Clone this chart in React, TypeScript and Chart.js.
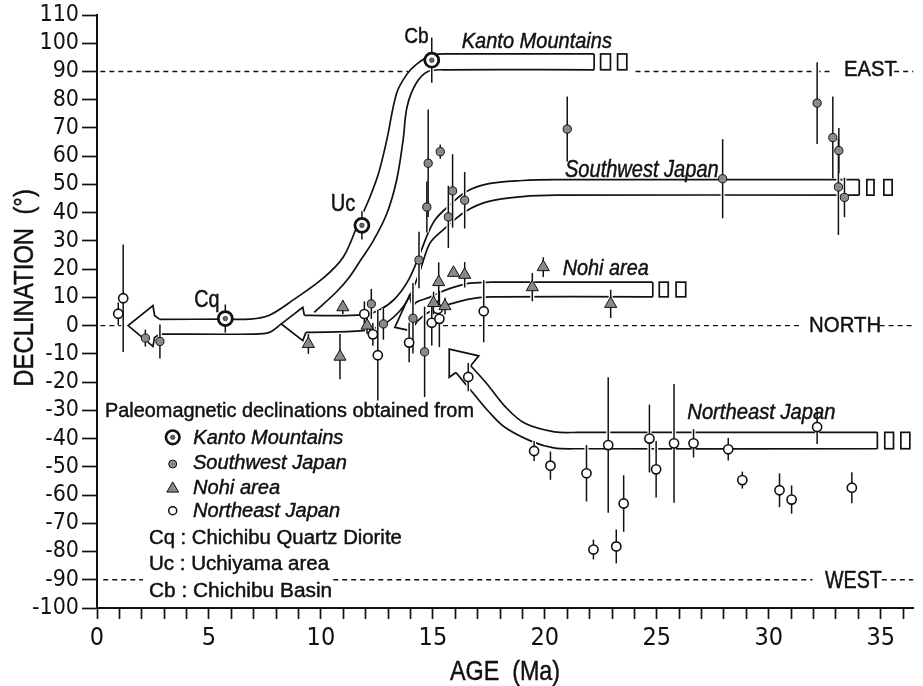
import React, { useEffect, useRef } from 'react';
import { Chart, registerables } from 'chart.js';

Chart.register(...registerables);

const SANS = '"Liberation Sans", Arial, Helvetica, sans-serif';
const NARROW = '"Liberation Sans Narrow", "Arial Narrow", "DejaVu Sans Condensed", "Liberation Sans", sans-serif';
const INK = '#111';
const GRAY = '#8a8a8a';

// ---------- data (age in Ma, declination in degrees, error half-length in degrees) ----------
const kantoAge = [5.73, 11.83, 14.95];
const kantoDec = [2.5, 35.5, 94];
const kantoErr = [5, 5, 8];

const swAge = [2.16, 2.81, 12.25, 12.79, 14.11, 14.38, 14.63, 14.73, 14.79, 15.33, 15.69, 15.88, 16.42, 21.0, 27.94, 32.16, 32.86, 33.13, 33.11, 33.38];
const swDec = [-4.4, -5.6, 7.7, 0.6, 2.6, 23.2, -9.3, 42, 57.5, 61.6, 38.5, 47.7, 44.4, 69.6, 52, 78.8, 66.6, 62, 49.1, 45.4];
const swErr = [3, 6, 5.3, 5.6, 12.5, 10, 16, 9, 19, 2.5, 11, 13, 10, 11.5, 14, 14.5, 14.5, 8, 17, 7];

const nohiAge = [9.44, 10.85, 10.98, 12.06, 15.03, 15.26, 15.54, 15.92, 16.42, 19.44, 19.93, 22.94];
const nohiDec = [-6.5, -11, 6.5, 0, 8, 15.4, 6.9, 18.7, 18, 13.6, 20.7, 7.7];
const nohiErr = [3.5, 8, 2.5, 3, 4, 7, 3, 0, 4.5, 5, 3.5, 5];

const neAge = [0.95, 1.17, 11.94, 12.32, 12.54, 13.94, 14.95, 15.22, 15.29, 16.58, 17.27, 19.52, 20.25, 21.86, 22.17, 22.83, 23.19, 23.52, 24.67, 24.97, 25.77, 26.64, 28.19, 28.82, 30.48, 31.02, 32.16, 33.71];
const neDec = [4.2, 9.7, 4.1, -3.1, -10.5, -6.0, 1.0, 5.9, 2.4, -18.2, 5.1, -44.4, -49.6, -52.3, -79.3, -42.3, -78.2, -63, -40, -50.9, -41.7, -41.7, -43.8, -54.7, -58.3, -61.6, -35.9, -57.4];
const neErr = [4, 19, 4.5, 4, 16, 7, 8, 3, 10, 5, 11, 3.5, 5, 10, 3.5, 24, 6, 10, 12, 10, 21, 5, 4, 3, 6, 5, 6, 5.5];

// ---------- rotation-path annotations (Ma, degrees) ----------
type P = [number, number];
const KANTO_ARROW: P[] = [[2.8, 2.2], [2.57, 3.6], [2.5, 7.1], [1.39, 0], [2.5, -7.4], [2.57, -4.2], [2.8, -3]];
const KANTO_OUTER: P[] = [[2.8, 2.2], [5.7, 2.3], [6.8, 2.3], [7.7, 3.7], [8.8, 9.3], [10.1, 16.8], [11.0, 24.3], [11.69, 36.7], [12.13, 44.4], [12.57, 53.9], [12.94, 65.7], [13.38, 82.3], [13.82, 88.8], [14.25, 92.4], [14.95, 95.8], [16, 96.2], [22.2, 96.2]];
const KANTO_INNER: P[] = [[9.7, 4.7], [10.7, 12], [11.3, 17.5], [11.8, 23.5], [12.35, 30.2], [12.94, 39.6], [13.38, 51.5], [13.67, 65.7], [13.85, 77.6], [14.26, 85.9], [14.78, 90], [15.5, 90.6], [22.2, 90.6]];
const KANTO_LOWER: P[] = [[2.8, -3], [7.0, -3], [7.7, -2.4], [8.23, 0.6]];
const KANTO_END: P[] = [[22.2, 96.2], [22.2, 90.6]];

const SW_ARROW: P[] = [[9.26, 3.6], [9.19, 6.5], [8.23, 0.6], [9.19, -5.3], [9.33, -2.4]];
const SW_UPPER: P[] = [[9.26, 3.6], [11.9, 3.8], [12.6, 5.5], [13.3, 9.5], [13.9, 16], [14.4, 25], [14.8, 33], [15.1, 37.5], [15.6, 41.6], [16.5, 47.5], [17.5, 50.3], [19, 51.4], [20.5, 51.7], [34.04, 51.7]];
const SW_LOWER: P[] = [[9.33, -2.4], [11.9, -1.8], [12.8, 0.5], [13.5, 5], [14.0, 11], [14.45, 20], [14.87, 29.2], [15.46, 33.9], [16.47, 40.5], [17.5, 44], [19, 45.7], [20.5, 46.2], [34.04, 46.2]];
const SW_END: P[] = [[34.04, 51.7], [34.04, 46.2]];

const NOHI_ARROW: P[] = [[14.1, 6.5], [13.95, 10.7], [13.3, -0.6], [14.0, -1.8], [14.3, 1.5]];
const NOHI_UPPER: P[] = [[14.1, 6.5], [14.26, 8.3], [14.85, 10], [15.5, 12.4], [16.47, 14.8], [17.05, 15.2], [17.6, 15.4], [24.82, 15.4]];
const NOHI_LOWER: P[] = [[14.3, 1.5], [14.7, 4.2], [15.2, 6.2], [15.8, 7.7], [16.5, 9.2], [17.05, 9.9], [17.6, 10.2], [24.82, 10.2]];
const NOHI_END: P[] = [[24.82, 15.4], [24.82, 10.2]];

const NE_ARROW: P[] = [[16.69, -14.2], [17.05, -10.7], [15.73, -8.3], [15.73, -18.3], [16.03, -16.6]];
const NE_UPPER: P[] = [[16.69, -14.2], [17.4, -20.5], [18.23, -28.7], [19.11, -34.6], [20.43, -37.6], [21.5, -37.8], [34.85, -37.8]];
const NE_LOWER: P[] = [[16.03, -16.6], [16.84, -24.3], [17.5, -30.5], [18.23, -36.1], [19.41, -41], [20.4, -43.3], [21.5, -43.6], [34.85, -43.6]];
const NE_END: P[] = [[34.85, -37.8], [34.85, -43.6]];

// open-ended boxes after each band: [top, bottom, [from, to], [from, to]]
const BAND_BOXES: [number, number, P, P][] = [
  [96.2, 90.6, [22.49, 22.93], [23.25, 23.66]],
  [51.7, 46.2, [34.38, 34.7], [35.14, 35.51]],
  [15.4, 10.2, [25.11, 25.51], [25.86, 26.29]],
  [-37.8, -43.6, [35.18, 35.57], [35.9, 36.3]],
];

// dashed reference lines: declination and visible age ranges
const REF_DEC = [90, 0, -90];
const REF_SEGS: P[][] = [
  [[0.15, 13.9], [24.05, 32.85], [35.6, 36.45]],
  [[0.15, 1.3], [15.45, 31.35], [34.95, 36.45]],
  [[0.28, 2.05], [10.55, 31.95], [35.05, 36.45]],
];

// ---------- text ----------
// [text, left px, right px, baseline px, font size, italic]
type T = [string, number, number, number, number, boolean];
const LABELS: T[] = [
  ['Cq', 195, 218.3, 306.7, 24, false],
  ['Uc', 331.7, 355, 210.7, 23, false],
  ['Cb', 405, 428.3, 43.3, 22, false],
  ['Kanto Mountains', 461.7, 611.7, 47.7, 22.5, true],
  ['Southwest Japan', 565, 718, 176.7, 23, true],
  ['Nohi area', 562.7, 648.3, 275, 22.5, true],
  ['Northeast Japan', 687.3, 835, 419.3, 22.5, true],
  ['EAST', 845, 897, 76, 22.5, false],
  ['NORTH', 810, 880, 331.7, 22.5, false],
  ['WEST', 825, 881.7, 588.3, 23, false],
  ['Paleomagnetic declinations obtained from', 106, 473.3, 417.3, 20, false],
  ['Kanto Mountains', 193.3, 343.3, 444, 20, true],
  ['Southwest Japan', 193, 346.7, 469.3, 20, true],
  ['Nohi area', 193, 280, 494, 20, true],
  ['Northeast Japan', 193, 340, 516.7, 20, true],
  ['Cq : Chichibu Quartz Diorite', 150, 401.7, 544, 20, false],
  ['Uc : Uchiyama area', 150, 330, 570, 20, false],
  ['Cb : Chichibu Basin', 150, 331, 596.7, 20, false],
  ['AGE  (Ma)', 450, 559, 680, 28, false],
];
const Y_TITLE = 'DECLINATION  (°)';
const LEGEND_X = 172.7;
const LEGEND_Y = [437.3, 464, 487.7, 510.7];

const toPts = (xs: number[], ys: number[]) => xs.map((x, i) => ({ x, y: ys[i] }));
const pathPts = (p: P[]) => p.map(([x, y]) => ({ x, y }));

function drawFit(ctx: CanvasRenderingContext2D, text: string, left: number, right: number, baseline: number, size: number, italic: boolean) {
  ctx.save();
  ctx.font = `${italic ? 'italic ' : ''}${size}px ${SANS}`;
  ctx.textAlign = 'left';
  ctx.textBaseline = 'alphabetic';
  const m = ctx.measureText(text);
  const ink = m.actualBoundingBoxLeft + m.actualBoundingBoxRight;
  const sx = (right - left) / ink;
  ctx.translate(left + m.actualBoundingBoxLeft * sx, baseline);
  ctx.scale(sx, 1);
  ctx.fillStyle = INK;
  ctx.strokeStyle = INK;
  ctx.lineWidth = 0.45;
  ctx.fillText(text, 0, 0);
  ctx.strokeText(text, 0, 0);
  ctx.restore();
}

function circle(ctx: CanvasRenderingContext2D, x: number, y: number, r: number, fill: string, stroke: string, lw: number) {
  ctx.beginPath();
  ctx.arc(x, y, r, 0, Math.PI * 2);
  ctx.fillStyle = fill;
  ctx.fill();
  if (lw > 0) {
    ctx.lineWidth = lw;
    ctx.strokeStyle = stroke;
    ctx.stroke();
  }
}

function triangle(ctx: CanvasRenderingContext2D, x: number, y: number, r: number) {
  ctx.beginPath();
  for (let k = 0; k < 3; k++) {
    const a = (k * 2 * Math.PI) / 3;
    const px = x + Math.sin(a) * r;
    const py = y - Math.cos(a) * r;
    if (k === 0) ctx.moveTo(px, py); else ctx.lineTo(px, py);
  }
  ctx.closePath();
  ctx.fillStyle = GRAY;
  ctx.fill();
  ctx.lineWidth = 1;
  ctx.strokeStyle = INK;
  ctx.stroke();
}

const decor = {
  id: 'decor',
  beforeDatasetsDraw(chart: any) {
    const { ctx, scales: { x, y } } = chart;
    ctx.save();
    ctx.strokeStyle = INK;
    ctx.lineWidth = 1.4;
    ctx.setLineDash([5, 4]);
    REF_DEC.forEach((dec, i) => {
      const py = y.getPixelForValue(dec);
      REF_SEGS[i].forEach(([a, b]) => {
        ctx.beginPath();
        ctx.moveTo(x.getPixelForValue(a), py);
        ctx.lineTo(x.getPixelForValue(b), py);
        ctx.stroke();
      });
    });
    ctx.restore();
  },
  beforeDatasetDraw(chart: any, args: any) {
    const ds = chart.data.datasets[args.index];
    if (!ds.errorsFirst) return;
    const { ctx, scales: { x, y } } = chart;
    const sets = chart.data.datasets.filter((d: any) => d.errors);
    ctx.save();
    ctx.setLineDash([]);
    [0, 1].forEach((pass) => {
      ctx.strokeStyle = pass === 0 ? '#fff' : INK;
      ctx.lineWidth = pass === 0 ? 4 : 1.5;
      sets.forEach((d: any) => {
        d.data.forEach((p: any, i: number) => {
          const e = d.errors[i];
          if (!e) return;
          const px = x.getPixelForValue(p.x);
          ctx.beginPath();
          ctx.moveTo(px, y.getPixelForValue(p.y + e));
          ctx.lineTo(px, y.getPixelForValue(p.y - e));
          ctx.stroke();
        });
      });
    });
    ctx.restore();
  },
  afterDatasetsDraw(chart: any) {
    const { ctx, scales: { x, y } } = chart;
    ctx.save();
    ctx.strokeStyle = INK;
    ctx.lineWidth = 1.7;
    ctx.setLineDash([]);
    BAND_BOXES.forEach(([top, bot, b1, b2]) => {
      [b1, b2].forEach(([a, b]) => {
        const x0 = x.getPixelForValue(a);
        const x1 = x.getPixelForValue(b);
        const y0 = y.getPixelForValue(top);
        const y1 = y.getPixelForValue(bot);
        ctx.strokeRect(x0, y0, x1 - x0, y1 - y0);
      });
    });
    LABELS.forEach(([t, l, r, b, s, it]) => drawFit(ctx, t, l, r, b, s, it));
    // y-axis title (rotated)
    ctx.save();
    ctx.translate(33, 385);
    ctx.rotate(-Math.PI / 2);
    drawFit(ctx, Y_TITLE, 0, 195, 0, 27, false);
    ctx.restore();
    // legend symbols
    circle(ctx, LEGEND_X, LEGEND_Y[0], 6.8, '#fff', INK, 2.6);
    circle(ctx, LEGEND_X, LEGEND_Y[0], 2.2, '#666', INK, 0.6);
    circle(ctx, LEGEND_X, LEGEND_Y[1], 4, GRAY, INK, 1);
    triangle(ctx, LEGEND_X, LEGEND_Y[2] + 1, 6.8);
    circle(ctx, LEGEND_X, LEGEND_Y[3], 4, '#fff', INK, 1.5);
    ctx.restore();
  },
};

const bandDs = (p: P[], tension: number) => ({
  data: pathPts(p),
  showLine: true,
  pointRadius: 0,
  borderColor: INK,
  borderWidth: 1.7,
  tension,
  fill: false,
  order: 10,
});

export default function App() {
  const ref = useRef<HTMLCanvasElement>(null);
  useEffect(() => {
    const canvas = ref.current;
    if (!canvas) return;
    const datasets: any[] = [
      {
        data: toPts(neAge, neDec), errors: neErr, errorsFirst: true, order: 5,
        pointRadius: 4.6, pointStyle: 'circle', backgroundColor: '#fff', borderColor: INK, borderWidth: 1.6,
      },
      {
        data: toPts(nohiAge, nohiDec), errors: nohiErr, order: 4,
        pointRadius: 7, pointStyle: 'triangle', backgroundColor: GRAY, borderColor: INK, borderWidth: 1,
      },
      {
        data: toPts(swAge, swDec), errors: swErr, order: 3,
        pointRadius: 4.1, pointStyle: 'circle', backgroundColor: GRAY, borderColor: INK, borderWidth: 1,
      },
      {
        data: toPts(kantoAge, kantoDec), errors: kantoErr, order: 2,
        pointRadius: 7, pointStyle: 'circle', backgroundColor: '#fff', borderColor: INK, borderWidth: 2.8,
      },
      {
        data: toPts(kantoAge, kantoDec), order: 1,
        pointRadius: 2.3, pointStyle: 'circle', backgroundColor: '#666', borderColor: INK, borderWidth: 0.6,
      },
      bandDs(KANTO_ARROW, 0), bandDs(KANTO_OUTER, 0.35), bandDs(KANTO_INNER, 0.35), bandDs(KANTO_LOWER, 0.3), bandDs(KANTO_END, 0),
      bandDs(SW_ARROW, 0), bandDs(SW_UPPER, 0.35), bandDs(SW_LOWER, 0.35), bandDs(SW_END, 0),
      bandDs(NOHI_ARROW, 0), bandDs(NOHI_UPPER, 0.35), bandDs(NOHI_LOWER, 0.35), bandDs(NOHI_END, 0),
      bandDs(NE_ARROW, 0), bandDs(NE_UPPER, 0.35), bandDs(NE_LOWER, 0.35), bandDs(NE_END, 0),
    ];
    const chart = new Chart(canvas, {
      type: 'scatter',
      data: { datasets },
      plugins: [decor],
      options: {
        responsive: false,
        animation: false,
        events: [],
        layout: { padding: { top: 15, right: 1, left: 0, bottom: 0 } },
        plugins: { legend: { display: false }, tooltip: { enabled: false } },
        scales: {
          x: {
            type: 'linear', position: 'bottom', min: 0, max: 36.45,
            border: { display: true, color: INK, width: 2 },
            grid: { drawOnChartArea: false, drawTicks: true, tickLength: 11, tickColor: INK, tickWidth: 1.7 },
            ticks: {
              stepSize: 1, autoSkip: false, maxRotation: 0, includeBounds: false, padding: 4, color: INK,
              font: { family: NARROW, size: 25 },
              callback: (v: any) => (Number(v) % 5 === 0 ? String(v) : ''),
            },
            afterFit: (s: any) => { s.height = 78; s.paddingLeft = 0; s.paddingRight = 0; },
          },
          y: {
            type: 'linear', position: 'left', min: -100, max: 110,
            border: { display: true, color: INK, width: 2 },
            grid: { drawOnChartArea: false, drawTicks: true, tickLength: 15, tickColor: INK, tickWidth: 1.7 },
            ticks: {
              stepSize: 10, autoSkip: false, includeBounds: false, padding: 3, color: INK,
              font: { family: NARROW, size: 23 },
              callback: (v: any) => String(v),
            },
            afterFit: (s: any) => { s.width = 97; s.paddingTop = 0; s.paddingBottom = 0; },
          },
        },
      } as any,
    });
    return () => chart.destroy();
  }, []);
  return (
    <div style={{ position: 'fixed', left: 0, top: 0, width: 923, height: 686, background: '#fff' }}>
      <canvas ref={ref} width={923} height={686} style={{ display: 'block' }} />
    </div>
  );
}
